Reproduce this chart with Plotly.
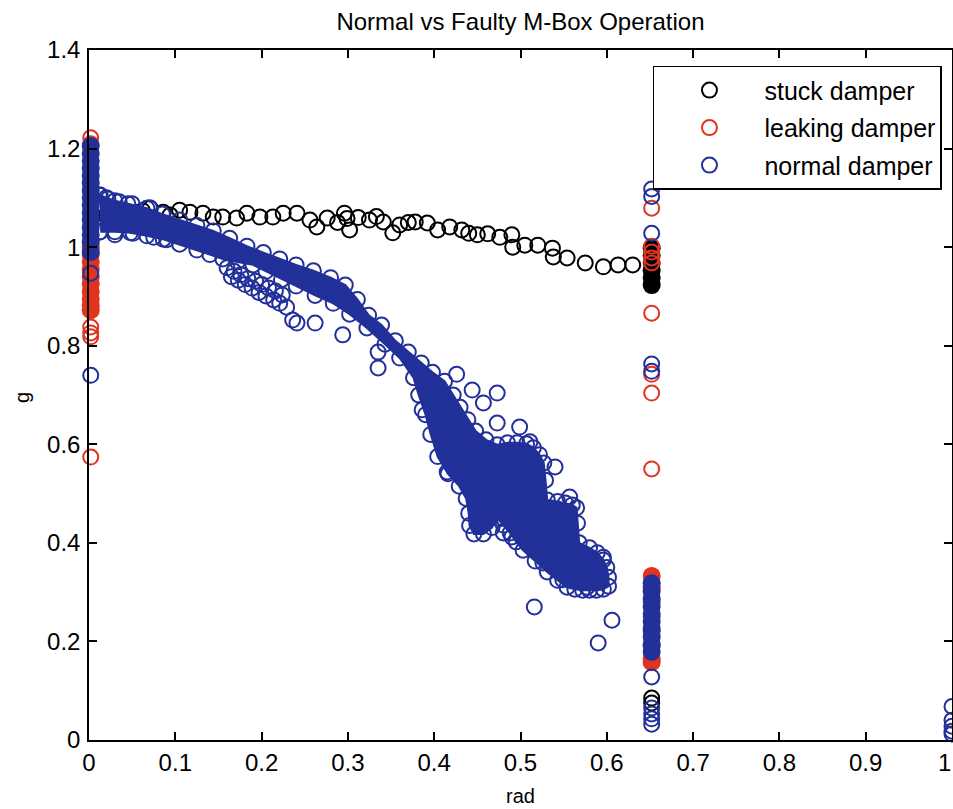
import plotly.graph_objects as go

# ---------------- text ----------------
title_text = "Normal vs Faulty M-Box Operation"
x_label = "rad"
y_label = "g"
series_names = ["stuck damper", "leaking damper", "normal damper"]
x_tickvals = [0, 0.1, 0.2, 0.3, 0.4, 0.5, 0.6, 0.7, 0.8, 0.9, 1]
x_ticktext = ["0", "0.1", "0.2", "0.3", "0.4", "0.5", "0.6", "0.7", "0.8", "0.9", ""]
x_last_label = "1"
y_tickvals = [0, 0.2, 0.4, 0.6, 0.8, 1, 1.2, 1.4]

# ---------------- stuck damper (black) ----------------
stuck_x = [0.008, 0.02, 0.032, 0.045, 0.055, 0.062, 0.071, 0.086, 0.094, 0.105,
           0.117, 0.132, 0.144, 0.155, 0.171, 0.183, 0.198, 0.213, 0.225, 0.241,
           0.256, 0.264, 0.276, 0.288, 0.296, 0.299, 0.302, 0.312, 0.325, 0.333,
           0.341, 0.352, 0.36, 0.37, 0.378, 0.392, 0.404, 0.418, 0.432, 0.44,
           0.45, 0.462, 0.476, 0.49, 0.491, 0.505, 0.52, 0.537, 0.538, 0.554,
           0.575, 0.596, 0.613, 0.63,
           0.652, 0.652]
stuck_y = [1.06, 1.062, 1.058, 1.066, 1.07, 1.074, 1.079, 1.071, 1.065, 1.075,
           1.071, 1.069, 1.061, 1.061, 1.059, 1.069, 1.061, 1.061, 1.069, 1.069,
           1.055, 1.041, 1.059, 1.05, 1.069, 1.058, 1.035, 1.06, 1.055, 1.062,
           1.051, 1.029, 1.045, 1.05, 1.051, 1.049, 1.035, 1.041, 1.035, 1.028,
           1.025, 1.027, 1.02, 1.025, 1.0, 1.004, 1.004, 0.998, 0.98, 0.978,
           0.968, 0.96, 0.964, 0.964,
           0.085, 0.075]
# dense stack of stuck-damper points at rad = 0.652
stuck_dense_x = [0.652, 0.652, 0.652, 0.652, 0.652, 0.652]
stuck_dense_y = [0.998, 0.983, 0.968, 0.953, 0.938, 0.923]

# ---------------- leaking damper (red) ----------------
leak_x = [0.002, 0.002, 0.002, 0.002, 0.002, 0.002,
          0.652, 0.652, 0.652, 0.652, 0.652, 0.652, 0.652, 0.652, 0.652, 0.652, 0.652]
leak_y = [1.222, 1.21, 0.838, 0.826, 0.818, 0.574,
          1.079, 1.002, 0.99, 0.978, 0.968, 0.866, 0.742, 0.704, 0.55, 0.333, 0.158]
leak_dense_x = [0.002] * 10 + [0.652] * 8
leak_dense_y = [1.0, 0.985, 0.97, 0.955, 0.94, 0.925, 0.91, 0.895, 0.882, 0.872,
                0.333, 0.31, 0.28, 0.25, 0.22, 0.19, 0.165, 0.158]

# ---------------- normal damper (blue) ----------------
normal_x = [0.002, 0.002, 0.002,
            0.652, 0.652, 0.652, 0.652, 0.652, 0.652, 0.652, 0.652, 0.652, 0.652, 0.652, 0.652,
            1.0, 1.0, 1.0, 1.0, 1.0,
            0.013, 0.022, 0.035, 0.05, 0.07, 0.012, 0.03, 0.051, 0.075, 0.09,
            0.160, 0.168, 0.176, 0.184, 0.193, 0.2, 0.208, 0.216, 0.224,
            0.165, 0.173, 0.181, 0.189, 0.197, 0.205, 0.214, 0.221, 0.229,
            0.236, 0.241, 0.262, 0.294,
            0.335, 0.335, 0.426, 0.444, 0.457, 0.473, 0.473, 0.499, 0.511, 0.540,
            0.557, 0.596, 0.516, 0.590, 0.606, 0.386, 0.415, 0.480, 0.490, 0.526,
            0.549, 0.577]
normal_y = [1.205, 0.947, 0.740,
            1.118, 1.103, 1.028, 0.763, 0.748, 0.318, 0.179, 0.128, 0.065, 0.053, 0.043, 0.032,
            0.068, 0.04, 0.028, 0.018, 0.012,
            1.106, 1.098, 1.092, 1.088, 1.08, 1.03, 1.025, 1.028, 1.02, 1.015,
            0.958, 0.951, 0.944, 0.936, 0.931, 0.924, 0.917, 0.911, 0.903,
            0.940, 0.933, 0.924, 0.917, 0.908, 0.901, 0.893, 0.886, 0.878,
            0.852, 0.846, 0.846, 0.822,
            0.787, 0.755, 0.742, 0.710, 0.684, 0.704, 0.643, 0.635, 0.605, 0.554,
            0.493, 0.371, 0.270, 0.197, 0.243, 0.670, 0.544, 0.420, 0.412, 0.359,
            0.325, 0.310]
# dense stacks of normal-damper points
normal_dense_x = [0.002] * 15 + [0.652] * 10
normal_dense_y = [1.205, 1.19, 1.175, 1.16, 1.145, 1.13, 1.115, 1.10, 1.085, 1.07,
                  1.055, 1.04, 1.025, 1.01, 0.99,
                  0.318, 0.302, 0.287, 0.271, 0.256, 0.240, 0.225, 0.209, 0.194, 0.179]
# edge points of the solid cloud of overlapping normal-damper points (clockwise)
cloud_x = [0.012, 0.02, 0.03, 0.045, 0.067, 0.085, 0.105, 0.125, 0.144, 0.163,
           0.183, 0.202, 0.221, 0.240, 0.260, 0.280, 0.297, 0.311, 0.324, 0.339,
           0.355, 0.370, 0.385, 0.398, 0.412, 0.422, 0.430, 0.439, 0.448, 0.460,
           0.473, 0.485, 0.496, 0.507, 0.515, 0.522, 0.527, 0.529, 0.531, 0.543,
           0.552, 0.560, 0.565, 0.566, 0.568, 0.580, 0.589, 0.596, 0.600, 0.602,
           0.602,
           0.596, 0.588, 0.580, 0.572, 0.563, 0.554, 0.543, 0.531, 0.517, 0.503,
           0.495, 0.488, 0.480, 0.473, 0.467, 0.457, 0.446, 0.441, 0.440, 0.437,
           0.429, 0.416, 0.404, 0.396, 0.390, 0.382, 0.376, 0.360, 0.343, 0.322,
           0.302, 0.283, 0.262, 0.240, 0.223, 0.205, 0.190, 0.172, 0.155, 0.140,
           0.125, 0.105, 0.086, 0.067, 0.048, 0.03, 0.013]
cloud_y = [1.106, 1.100, 1.094, 1.088, 1.079, 1.067, 1.055, 1.044, 1.033, 1.018,
           1.002, 0.989, 0.976, 0.964, 0.952, 0.938, 0.923, 0.894, 0.862, 0.842,
           0.810, 0.787, 0.765, 0.746, 0.728, 0.700, 0.675, 0.650, 0.627, 0.609,
           0.599, 0.603, 0.603, 0.601, 0.593, 0.579, 0.562, 0.527, 0.487, 0.484,
           0.481, 0.477, 0.471, 0.44, 0.400, 0.390, 0.380, 0.365, 0.350, 0.33,
           0.312,
           0.306, 0.304, 0.304, 0.304, 0.306, 0.310, 0.324, 0.341, 0.363, 0.385,
           0.402, 0.420, 0.436, 0.450, 0.431, 0.418, 0.418, 0.435, 0.46, 0.49,
           0.515, 0.54, 0.575, 0.62, 0.66, 0.70, 0.735, 0.775, 0.803, 0.836,
           0.864, 0.886, 0.902, 0.921, 0.934, 0.951, 0.964, 0.970, 0.976, 0.985,
           0.994, 1.006, 1.016, 1.023, 1.029, 1.031, 1.031]

# ---------------- styles ----------------
BLACK = "#000000"
RED = "#e0341f"
BLUE = "#22309a"
FONT = "Liberation Sans, Arial, sans-serif"
MS = 15
LW = 2

fig = go.Figure()


def open_trace(x, y, color, name, group):
    return go.Scatter(x=x, y=y, mode="markers", name=name, legendgroup=group,
                      cliponaxis=False,
                      marker=dict(symbol="circle-open", size=MS, color=color,
                                  line=dict(width=LW, color=color)))


def dense_trace(x, y, color, group):
    return go.Scatter(x=x, y=y, mode="markers", showlegend=False, legendgroup=group,
                      cliponaxis=False, hoverinfo="skip",
                      marker=dict(symbol="circle", size=MS + 3, color=color,
                                  line=dict(width=0)))


# stuck
fig.add_trace(dense_trace(stuck_dense_x, stuck_dense_y, BLACK, "g1"))
fig.add_trace(open_trace(stuck_x, stuck_y, BLACK, series_names[0], "g1"))
# leaking
fig.add_trace(dense_trace(leak_dense_x, leak_dense_y, RED, "g2"))
fig.add_trace(open_trace(leak_x, leak_y, RED, series_names[1], "g2"))
# normal
fig.add_trace(go.Scatter(x=cloud_x, y=cloud_y, mode="lines+markers", fill="toself",
                         fillcolor=BLUE, line=dict(color=BLUE, width=2),
                         marker=dict(symbol="circle-open", size=MS, color=BLUE,
                                     line=dict(width=LW, color=BLUE)),
                         showlegend=False, legendgroup="g3", hoverinfo="skip"))
fig.add_trace(dense_trace(normal_dense_x, normal_dense_y, BLUE, "g3"))
fig.add_trace(open_trace(normal_x, normal_y, BLUE, series_names[2], "g3"))

axis_common = dict(showline=True, linecolor="black", linewidth=1.5, mirror="ticks",
                   ticks="inside", ticklen=8, tickwidth=1.5, tickcolor="black",
                   showgrid=False, zeroline=False, automargin=False,
                   tickfont=dict(family=FONT, size=24, color="black"))

fig.update_layout(
    width=953, height=809,
    margin=dict(l=89, r=1, t=50, b=69),
    paper_bgcolor="white", plot_bgcolor="white",
    title=dict(text=title_text, x=0.5, xref="paper", y=1 - 22 / 809, yref="container",
               yanchor="middle", xanchor="center",
               font=dict(family=FONT, size=24, color="black")),
    xaxis=dict(range=[0, 1], tickvals=x_tickvals, ticktext=x_ticktext,
               ticklabelstandoff=0, **axis_common),
    yaxis=dict(range=[0, 1.4], tickvals=y_tickvals, ticklabelstandoff=2, **axis_common),
    legend=dict(x=0.6535, y=0.977, xanchor="left", yanchor="top",
                bgcolor="white", bordercolor="black", borderwidth=1.5,
                font=dict(family=FONT, size=25, color="black"),
                traceorder="grouped", tracegroupgap=2, itemwidth=100),
    showlegend=True,
    annotations=[
        dict(text=x_last_label, xref="paper", yref="paper", x=1, y=(740 - 762) / 690,
             xanchor="right", yanchor="middle", showarrow=False, xshift=1,
             font=dict(family=FONT, size=24, color="black")),
        dict(text=x_label, xref="paper", yref="paper", x=0.5, y=(740 - 796) / 690,
             xanchor="center", yanchor="middle", showarrow=False,
             font=dict(family=FONT, size=20, color="black")),
        dict(text=y_label, xref="paper", yref="paper", x=(22 - 89) / 863, y=0.4957,
             xanchor="center", yanchor="middle", showarrow=False, textangle=-90,
             font=dict(family=FONT, size=20, color="black")),
    ],
)

fig.write_html("out.html", config={"displayModeBar": False},
               post_script="document.body.style.margin='0';")
